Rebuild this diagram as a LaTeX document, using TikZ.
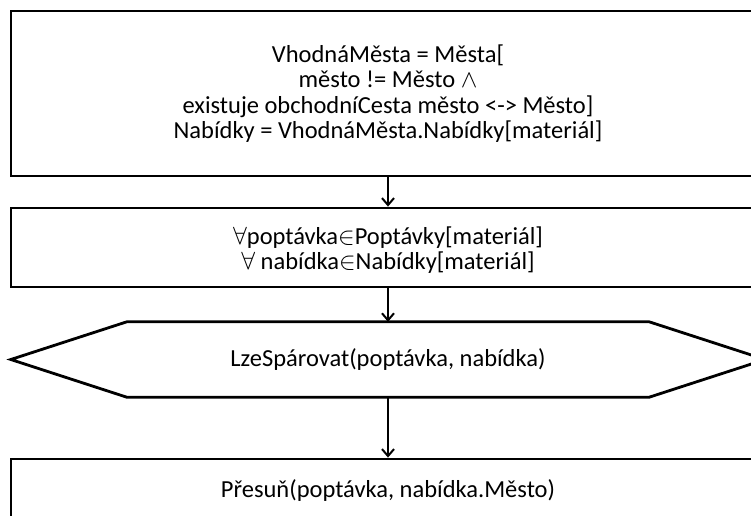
\documentclass[tikz,border=0pt]{standalone}
\usepackage{fontspec}
\setmainfont{Carlito}
\usetikzlibrary{arrows.meta}
\begin{document}
\begin{tikzpicture}[x=1pt,y=-1pt,
  box/.style={draw,line width=2.8pt,rectangle,minimum width=754pt,inner sep=0pt},
  txt/.style={font=\fontsize{24.5}{25.5}\selectfont,align=center},
  flow/.style={line width=2pt,-{Straight Barb[length=7pt,width=12pt,line width=2pt]}}]
\useasboundingbox (0,0) rectangle (751,515);
\clip (0,0) rectangle (751,515);
% selection of cities and offers
\node[box,txt,minimum height=165pt] (calc) at (388,93.5)
  {VhodnáMěsta = Města[\\
   město != Město $\wedge$\\
   existuje obchodníCesta město <-> Město]\\
   Nabídky = VhodnáMěsta.Nabídky[materiál]};
% loop over demands and offers
\node[box,minimum height=79pt] (loop) at (388,247.5) {};
\node[txt] (looptext) at (388,250)
  {$\forall$poptávka$\in$Poptávky[materiál]\\
   $\forall$ nabídka$\in$Nabídky[materiál]};
% decision
\node[txt,minimum width=754pt,minimum height=75pt,inner sep=0pt] (test) at (388,359.5)
  {LzeSpárovat(poptávka, nabídka)};
\draw[line width=2.8pt,line join=miter]
  (test.west) -- ([xshift=116pt]test.north west) -- ([xshift=-116pt]test.north east)
  -- (test.east) -- ([xshift=-116pt]test.south east) -- ([xshift=116pt]test.south west) -- cycle;
% action
\node[box,minimum height=130pt] (move) at (388,524) {};
\node[txt] (movetext) at (388,491) {Přesuň(poptávka, nabídka.Město)};
% connectors
\draw[flow] (calc.south) -- (loop.north);
\draw[flow] (loop.south) -- (test.north);
\draw[flow] (test.south) -- (move.north);
\end{tikzpicture}
\end{document}
